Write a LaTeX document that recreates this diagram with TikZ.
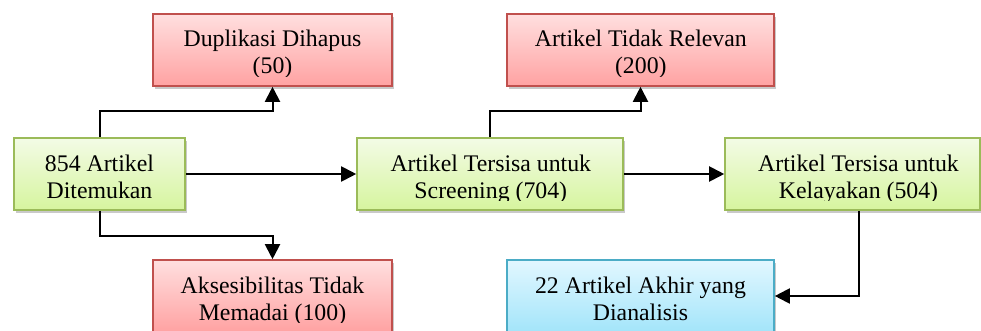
\documentclass[tikz,border=0pt]{standalone}
\usepackage{fontspec}
\setmainfont{Liberation Serif}
\usetikzlibrary{shadows,arrows.meta,calc}
\definecolor{redline}{HTML}{C0504D}
\definecolor{redtop}{HTML}{FFDFDF}
\definecolor{redbot}{HTML}{FFA2A2}
\definecolor{grnline}{HTML}{9BBB59}
\definecolor{grntop}{HTML}{F3FBE6}
\definecolor{grnbot}{HTML}{D6F59E}
\definecolor{bluline}{HTML}{4BACC6}
\definecolor{blutop}{HTML}{E2F7FF}
\definecolor{blubot}{HTML}{A3E5FA}
\tikzset{
  boxbase/.style={line width=1.6pt, inner sep=0pt,
    drop shadow={shadow xshift=2pt, shadow yshift=-3pt, opacity=0.3, fill=black!70}},
  redbox/.style={boxbase, draw=redline, top color=redtop, bottom color=redbot},
  grnbox/.style={boxbase, draw=grnline, top color=grntop, bottom color=grnbot},
  blubox/.style={boxbase, draw=bluline, top color=blutop, bottom color=blubot},
  boxtext/.style={font=\fontsize{23.8}{27}\selectfont, align=center, anchor=base, inner sep=0pt},
  conn/.style={line width=2pt, -{Triangle[length=15pt,width=15pt]}}
}
% #1 name, #2 style, #3 cx, #4 cy, #5 width, #6 text cx, #7 text
\newcommand{\flowbox}[7]{%
  \node[#2, minimum width=#5pt, minimum height=72pt] (#1) at (#3,#4) {};
  \begin{scope}
    \clip ($(#1.north west)+(2,2)$) rectangle ($(#1.south east)+(-2,-10)$);
    \node[boxtext] (#1text) at (#6,#4+24) {#7};
  \end{scope}}
\begin{document}
\begin{tikzpicture}[x=1pt,y=-1pt]
  \useasboundingbox (0,0) rectangle (981,331);
  \clip (0,0) rectangle (981,331);
  \flowbox{dup}{redbox}{272.5}{50}{239}{272.5}{Duplikasi Dihapus\\(50)}
  \flowbox{irr}{redbox}{640.5}{50}{267}{640.8}{Artikel Tidak Relevan\\(200)}
  \flowbox{found}{grnbox}{99.5}{174}{171}{99.5}{854 Artikel\\Ditemukan}
  \flowbox{scr}{grnbox}{490}{174}{266}{490.8}{Artikel Tersisa untuk\\Screening (704)}
  \flowbox{elig}{grnbox}{852.5}{174}{255}{858.5}{Artikel Tersisa untuk\\Kelayakan (504)}
  \flowbox{acc}{redbox}{272.5}{296}{239}{272.5}{Aksesibilitas Tidak\\Memadai (100)}
  \flowbox{fin}{blubox}{640.5}{296}{267}{640.5}{22 Artikel Akhir yang\\Dianalisis}
  \draw[conn] (found.north) -- ++(0,-26) -| (dup.south);
  \draw[conn] (found.east) -- (scr.west);
  \draw[conn] (found.south) -- ++(0,25) -| (acc.north);
  \draw[conn] (scr.north) -- ++(0,-26) -| (irr.south);
  \draw[conn] (scr.east) -- (elig.west);
  \draw[conn] ([xshift=6.5pt]elig.south) |- (fin.east);
\end{tikzpicture}
\end{document}
